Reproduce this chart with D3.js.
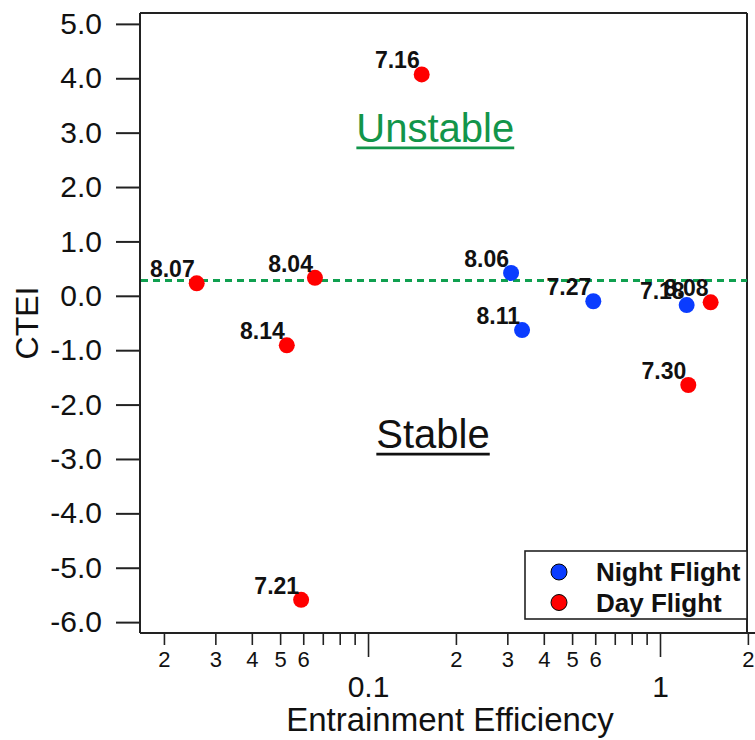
<!DOCTYPE html>
<html>
<head>
<meta charset="utf-8">
<script src="https://cdn.jsdelivr.net/npm/d3@7/dist/d3.min.js"></script>
<style>
	body { margin:0; background:#fff; }
	svg text { font-family:"Liberation Sans", Arial, sans-serif; fill:#111; }
</style>
</head>
<body>
<div id="chart"></div>
<script>
// Day flights (red)
var dayLabels=["8.07","8.04","8.14","7.21","7.16","7.30","8.08"];
var dayEE=[0.0259,0.0658,0.0527,0.0590,0.1527,1.250,1.491];
var dayCTEI=[0.23,0.33,-0.91,-5.59,4.07,-1.64,-0.12];

// Night flights (blue)
var nightLabels=["8.06","8.11","7.27","7.18"];
var nightEE=[0.309,0.337,0.591,1.234];
var nightCTEI=[0.42,-0.63,-0.10,-0.17];

// threshold line and tick values
var thresholdCTEI=0.28;
var yTicks=[-6,-5,-4,-3,-2,-1,0,1,2,3,4,5];
var xMajorTicks=[0.1,1];
var xMinorTicks=[0.02,0.03,0.04,0.05,0.06,0.07,0.08,0.09,0.2,0.3,0.4,0.5,0.6,0.7,0.8,0.9,2];
var xLabelledMinor=[2,3,4,5,6];

var legendNames=["Night Flight","Day Flight"];
var legendColors=["#0a3cff","#ff0000"];

var W=755, H=740;
var mLeft=140, mRight=747, mTop=13, mBottom=633;

var svg=d3.select("#chart").append("svg")
	.attr("width",W)
	.attr("height",H);

var x=d3.scaleLog().domain([0.01656,1.986]).range([mLeft,mRight]);
var y=d3.scaleLinear().domain([-6.2,5.2]).range([mBottom,mTop]);

// y axis
var yAxis=svg.append("g")
	.attr("transform","translate("+mLeft+",0)")
	.call(d3.axisLeft(y).tickValues(yTicks).tickSize(24).tickPadding(14)
		.tickFormat(function(d){ return d.toFixed(1); }));
yAxis.select(".domain").remove();
yAxis.selectAll("line").attr("stroke","#222").attr("stroke-width",2);
yAxis.selectAll("text").style("font-size","30px").attr("fill","#111");

// x axis, minor ticks
var xMinor=svg.append("g")
	.attr("transform","translate(0,"+mBottom+")")
	.call(d3.axisBottom(x).tickValues(xMinorTicks).tickSize(12).tickPadding(6)
		.tickFormat(function(d){
			var m=Math.round(d/Math.pow(10,Math.floor(Math.log10(d)+1e-9)));
			return xLabelledMinor.indexOf(m)>=0 ? String(m) : "";
		}));
xMinor.select(".domain").remove();
xMinor.selectAll("line").attr("stroke","#222").attr("stroke-width",1.6);
xMinor.selectAll("text").style("font-size","22px").attr("fill","#111");

// x axis, decades
var xMajor=svg.append("g")
	.attr("transform","translate(0,"+mBottom+")")
	.call(d3.axisBottom(x).tickValues(xMajorTicks).tickSize(24).tickPadding(19)
		.tickFormat(function(d){ return d<1 ? "0.1" : "1"; }));
xMajor.select(".domain").remove();
xMajor.selectAll("line").attr("stroke","#222").attr("stroke-width",1.6);
xMajor.selectAll("text").style("font-size","30px").attr("fill","#111");

// frame
var frame=svg.append("g").attr("stroke","#222").attr("stroke-width",2).attr("fill","none");
frame.append("line").attr("x1",mLeft).attr("x2",mLeft).attr("y1",mTop).attr("y2",mBottom);
frame.append("line").attr("x1",mLeft).attr("x2",mRight).attr("y1",mTop).attr("y2",mTop);
frame.append("line").attr("x1",mRight).attr("x2",mRight).attr("y1",mTop).attr("y2",mBottom);
frame.append("line").attr("x1",mLeft).attr("x2",W).attr("y1",mBottom).attr("y2",mBottom);

// axis titles
svg.append("text")
	.attr("x",450).attr("y",731)
	.attr("text-anchor","middle")
	.style("font-size","33px")
	.text("Entrainment Efficiency");
svg.append("text")
	.attr("transform","translate(38,323) rotate(-90)")
	.attr("text-anchor","middle")
	.style("font-size","32px")
	.text("CTEI");

// threshold line
svg.append("line")
	.attr("x1",mLeft+1).attr("x2",mRight)
	.attr("y1",y(thresholdCTEI)).attr("y2",y(thresholdCTEI))
	.attr("stroke","#10a050").attr("stroke-width",3)
	.attr("stroke-dasharray","7,5");

// regime annotations
function addRegime(sText,xv,yv,sColor)
{
	var t=svg.append("text")
		.attr("x",x(xv)).attr("y",y(yv))
		.attr("text-anchor","middle")
		.style("font-size","40px")
		.attr("fill",sColor)
		.style("fill",sColor)
		.text(sText);
	var bb=t.node().getBBox();
	svg.append("line")
		.attr("x1",bb.x).attr("x2",bb.x+bb.width)
		.attr("y1",y(yv)+6).attr("y2",y(yv)+6)
		.attr("stroke",sColor).attr("stroke-width",2.6);
}
addRegime("Unstable",0.170,2.83,"#12954a");
addRegime("Stable",0.167,-2.80,"#111111");

// points and labels
function addSeries(aEE,aCTEI,aLabels,sColor)
{
	var rows=aEE.map(function(v,i){ return {ee:v, ctei:aCTEI[i], label:aLabels[i]}; });
	var g=svg.append("g");
	g.selectAll("circle").data(rows).enter().append("circle")
		.attr("cx",function(d){ return x(d.ee); })
		.attr("cy",function(d){ return y(d.ctei); })
		.attr("r",8)
		.attr("fill",sColor);
	g.selectAll("text").data(rows).enter().append("text")
		.attr("x",function(d){ return x(d.ee)-2; })
		.attr("y",function(d){ return y(d.ctei)-6; })
		.attr("text-anchor","end")
		.style("font-size","23px")
		.style("font-weight","bold")
		.text(function(d){ return d.label; });
}
addSeries(dayEE,dayCTEI,dayLabels,legendColors[1]);
addSeries(nightEE,nightCTEI,nightLabels,legendColors[0]);

// legend
var legend=svg.append("g").attr("transform","translate(525,551)");
legend.append("rect")
	.attr("width",222).attr("height",68)
	.attr("fill","#fff").attr("stroke","#222").attr("stroke-width",1.6);
legendNames.forEach(function(sName,i){
	legend.append("circle")
		.attr("cx",34).attr("cy",21+i*30.5)
		.attr("r",8)
		.attr("fill",legendColors[i]).attr("stroke","#000").attr("stroke-width",1);
	legend.append("text")
		.attr("x",71).attr("y",30+i*30.5)
		.style("font-size","26px")
		.style("font-weight","bold")
		.text(sName);
});
</script>
</body>
</html>
